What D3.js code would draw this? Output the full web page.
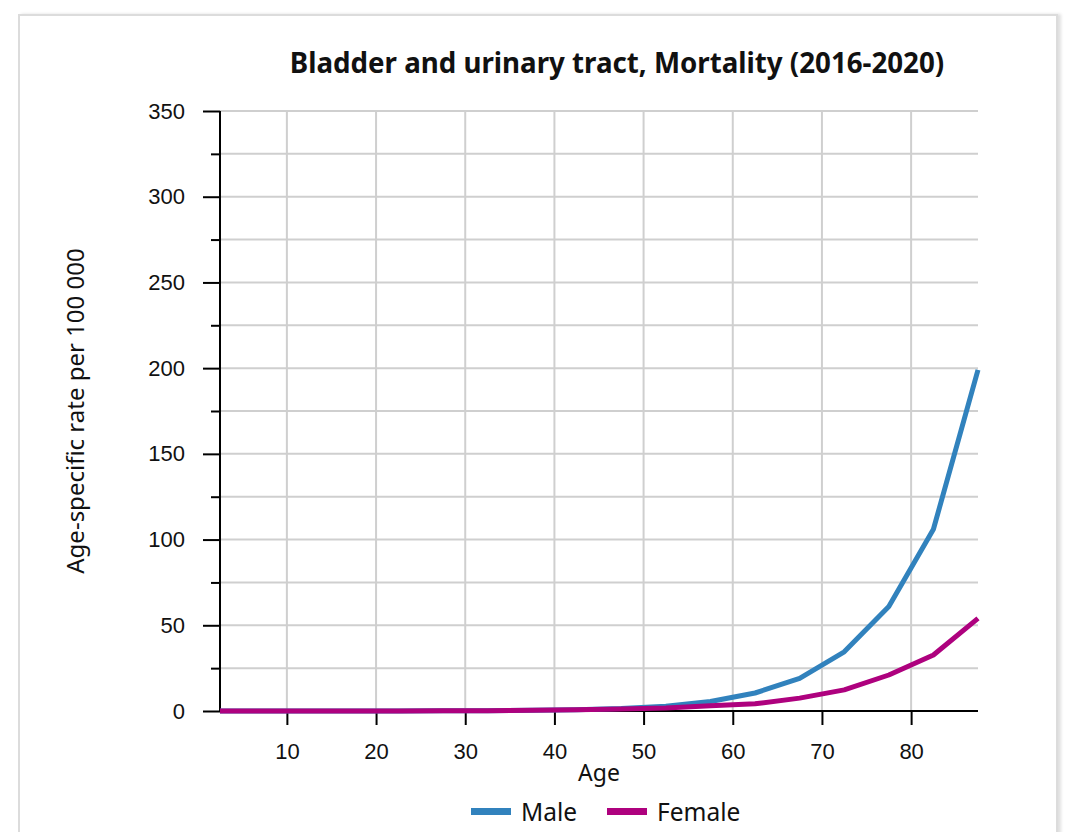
<!DOCTYPE html>
<html>
<head>
<meta charset="utf-8">
<script src="https://cdn.jsdelivr.net/npm/d3@7"></script>
<style>
  body { margin: 0; background: #fff; }
  .card { position: absolute; left: 18px; top: 14px; width: 1036px; height: 840px;
          border: 2px solid #dcdcdc; box-shadow: 3px 0 3px #e0e0e0; background: #fff; }
  svg { position: absolute; left: 0; top: 0; }
</style>
</head>
<body>
<div class="card"></div>
<svg></svg>
<script>
// age group midpoints
var ages = [2.5, 7.5, 12.5, 17.5, 22.5, 27.5, 32.5, 37.5, 42.5, 47.5, 52.5, 57.5, 62.5, 67.5, 72.5, 77.5, 82.5, 87.5];
var male = [0, 0, 0, 0, 0, 0.1, 0.2, 0.4, 0.8, 1.5, 2.8, 5.5, 10.5, 19, 34.5, 61, 106, 199];
var female = [0, 0, 0, 0, 0, 0.1, 0.2, 0.4, 0.7, 1.2, 1.8, 3, 4.2, 7.5, 12.3, 21, 32.7, 54];
var seriesNames = ["Male", "Female"];
var seriesColors = ["#3182bd", "#ae017e"];
var xTicks = [10, 20, 30, 40, 50, 60, 70, 80];
var yTicks = [0, 50, 100, 150, 200, 250, 300, 350];

var width = 1077, height = 832;
var margin = {left: 220, right: 99, top: 111, bottom: 121};

var svg = d3.select("svg")
    .attr("width", width)
    .attr("height", height);

var x = d3.scaleLinear().domain([2.5, 87.5]).range([margin.left, width - margin.right]);
var y = d3.scaleLinear().domain([0, 350]).range([height - margin.bottom, margin.top]);

// gridlines, every 25 on y
svg.append("g")
    .selectAll("line")
    .data(d3.range(0, 351, 25))
    .enter().append("line")
    .attr("x1", x(2.5)).attr("x2", x(87.5))
    .attr("y1", function(d) { return y(d); })
    .attr("y2", function(d) { return y(d); })
    .style("stroke", "#cfcfcf")
    .style("stroke-width", "2px");
svg.append("g")
    .selectAll("line")
    .data(xTicks)
    .enter().append("line")
    .attr("x1", function(d) { return x(d); })
    .attr("x2", function(d) { return x(d); })
    .attr("y1", y(0)).attr("y2", y(350))
    .style("stroke", "#cfcfcf")
    .style("stroke-width", "2px");

// y axis (major + minor)
var yAxis = svg.append("g")
    .attr("transform", "translate(" + margin.left + ",0)")
    .call(d3.axisLeft(y).tickValues(d3.range(0, 351, 25)).tickSize(17).tickPadding(18)
        .tickFormat(function(d) { return yTicks.indexOf(d) >= 0 ? d : ""; }));
yAxis.selectAll(".tick line")
    .attr("x2", function(d) { return yTicks.indexOf(d) >= 0 ? -17 : -9; });

// x axis
var xAxis = svg.append("g")
    .attr("transform", "translate(0," + y(0) + ")")
    .call(d3.axisBottom(x).tickValues(xTicks).tickSize(14).tickPadding(18));

[yAxis, xAxis].forEach(function(a) {
    a.select(".domain").style("stroke", "#000").style("stroke-width", "2px");
    a.selectAll(".tick line").style("stroke", "#000").style("stroke-width", "2px");
    a.selectAll("text")
        .style("font-family", "Liberation Sans, Arial")
        .style("font-size", "22px")
        .style("fill", "#111");
});
yAxis.select(".domain").attr("d", "M0," + y(350) + "V" + y(0));
xAxis.select(".domain").attr("d", "M" + x(2.5) + ",0H" + x(87.5));

// lines
var line = d3.line()
    .x(function(d, i) { return x(ages[i]); })
    .y(function(d) { return y(d); });

[male, female].forEach(function(vals, k) {
    svg.append("path")
        .datum(vals)
        .attr("d", line)
        .style("fill", "none")
        .style("stroke", seriesColors[k])
        .style("stroke-width", "5px")
        .style("stroke-linejoin", "round");
});

// title
svg.append("text")
    .attr("x", 617).attr("y", 73)
    .attr("text-anchor", "middle")
    .style("font-family", "Noto Sans")
    .style("font-weight", "bold")
    .style("font-size", "27.7px")
    .style("fill", "#111")
    .text("Bladder and urinary tract, Mortality (2016-2020)");

// axis labels
svg.append("text")
    .attr("x", 599).attr("y", 781)
    .attr("text-anchor", "middle")
    .style("font-family", "Noto Sans")
    .style("font-size", "23px")
    .style("fill", "#111")
    .text("Age");

svg.append("text")
    .attr("transform", "translate(84," + ((y(0) + y(350)) / 2) + ") rotate(-90)")
    .attr("text-anchor", "middle")
    .style("font-family", "Noto Sans")
    .style("font-size", "24px")
    .style("fill", "#111")
    .text("Age-specific rate per 100 000");

// legend
var legendX = [471, 607];
seriesNames.forEach(function(name, k) {
    svg.append("rect")
        .attr("x", legendX[k]).attr("y", 808)
        .attr("width", 40).attr("height", 7)
        .style("fill", seriesColors[k]);
    svg.append("text")
        .attr("x", legendX[k] + 50).attr("y", 821)
        .style("font-family", "Noto Sans")
        .style("font-size", "24.5px")
        .style("fill", "#111")
        .text(name);
});
</script>
</body>
</html>
